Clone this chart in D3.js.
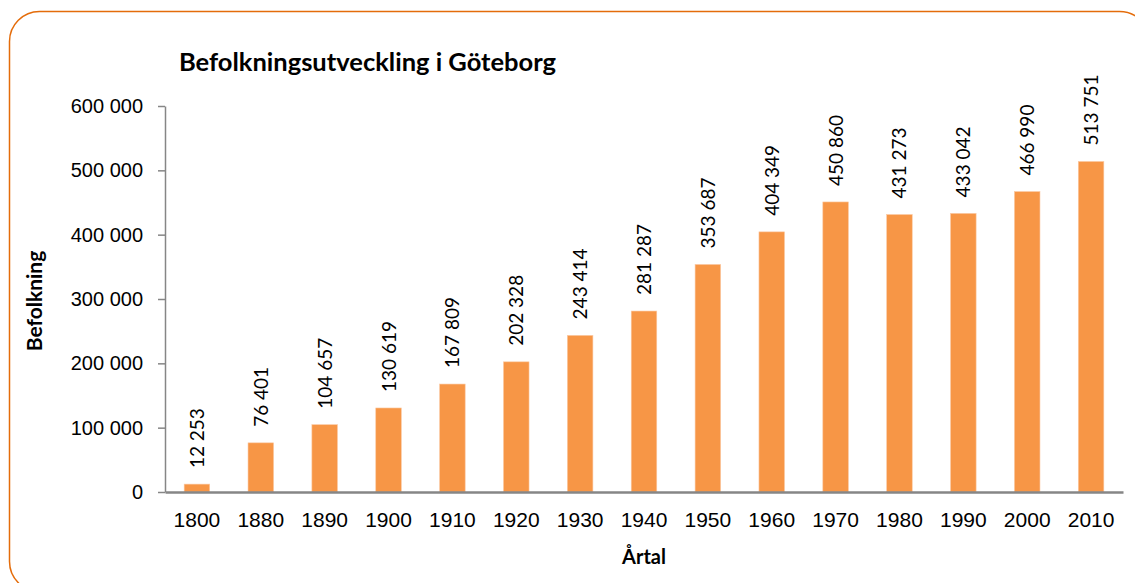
<!DOCTYPE html>
<html>
<head>
<meta charset="utf-8">
<script src="https://cdn.jsdelivr.net/npm/d3@7"></script>
<style>
  body { margin: 0; background: #fff; }
  svg { display: block; font-family: Lato, "Open Sans", sans-serif; }
</style>
</head>
<body>
<svg id="chart" width="1135" height="583"></svg>
<script>
(function() {

  var years = ['1800', '1880', '1890', '1900', '1910', '1920', '1930', '1940',
               '1950', '1960', '1970', '1980', '1990', '2000', '2010'];
  var population = [12253, 76401, 104657, 130619, 167809, 202328, 243414, 281287,
                    353687, 404349, 450860, 431273, 433042, 466990, 513751];
  var yTicks = [0, 100000, 200000, 300000, 400000, 500000, 600000];

  var W = 1135, H = 583;
  var margin = { top: 106, right: 12, bottom: 91, left: 165 };
  var svg = d3.select('#chart');

  var se = d3.formatLocale({ decimal: ',', thousands: ' ', grouping: [3], currency: ['', ' kr'] });
  var fmt = se.format(',d');

  // rounded border
  svg.append('rect')
    .attr('x', 9.5).attr('y', 11.5)
    .attr('width', 1140).attr('height', 580)
    .attr('rx', 30).attr('ry', 30)
    .attr('fill', '#fff')
    .attr('stroke', '#E46C0A')
    .attr('stroke-width', 1.5);

  var x = d3.scaleBand()
    .domain(years)
    .range([margin.left, W - margin.right]);

  var y = d3.scaleLinear()
    .domain([0, 600000])
    .range([H - margin.bottom, margin.top]);

  var barW = x.step() / 2.5;

  // bars
  svg.append('g').selectAll('rect')
    .data(population)
    .enter().append('rect')
    .attr('x', function(d, i) { return x(years[i]) + (x.step() - barW) / 2; })
    .attr('y', function(d) { return y(d); })
    .attr('width', barW)
    .attr('height', function(d) { return y(0) - y(d); })
    .attr('fill', '#F79646')
    .attr('stroke', '#FBC9A3')
    .attr('stroke-width', 0.6);

  // value labels
  svg.append('g').selectAll('text')
    .data(population)
    .enter().append('text')
    .attr('transform', function(d, i) {
      var cx = x(years[i]) + x.step() / 2 + 7;
      return 'translate(' + cx + ',' + (y(d) - 16) + ') rotate(-90)';
    })
    .style('font-size', '19px')
    .attr('fill', '#000')
    .text(function(d) { return fmt(d); });

  // y axis
  var yAxis = d3.axisLeft(y)
    .tickValues(yTicks)
    .tickFormat(fmt)
    .tickSizeInner(7)
    .tickSizeOuter(0)
    .tickPadding(15);

  var gy = svg.append('g')
    .attr('transform', 'translate(' + margin.left + ',0)')
    .call(yAxis);
  gy.selectAll('path, line').attr('stroke', '#868686').attr('stroke-width', 1.5);
  gy.selectAll('text').style('font-size', '20px').attr('fill', '#000');

  // x axis
  var xAxis = d3.axisBottom(x).tickSize(0).tickSizeOuter(0).tickPadding(20);
  var gx = svg.append('g')
    .attr('transform', 'translate(0,' + y(0) + ')')
    .call(xAxis);
  gx.select('path').attr('stroke', '#868686').attr('stroke-width', 2.5);
  gx.selectAll('text').style('font-size', '21px').attr('fill', '#000');

  // title
  svg.append('text')
    .attr('x', 179).attr('y', 71)
    .style('font-size', '25.5px')
    .style('font-weight', 'bold')
    .text('Befolkningsutveckling i Göteborg');

  // axis titles
  svg.append('text')
    .attr('transform', 'translate(42,' + (y(300000) + 2) + ') rotate(-90)')
    .attr('text-anchor', 'middle')
    .style('font-size', '21px')
    .style('font-weight', 'bold')
    .text('Befolkning');

  svg.append('text')
    .attr('x', 644)
    .attr('y', 564)
    .attr('text-anchor', 'middle')
    .style('font-size', '20px')
    .style('font-weight', 'bold')
    .text('Årtal');
})();
</script>
</body>
</html>
